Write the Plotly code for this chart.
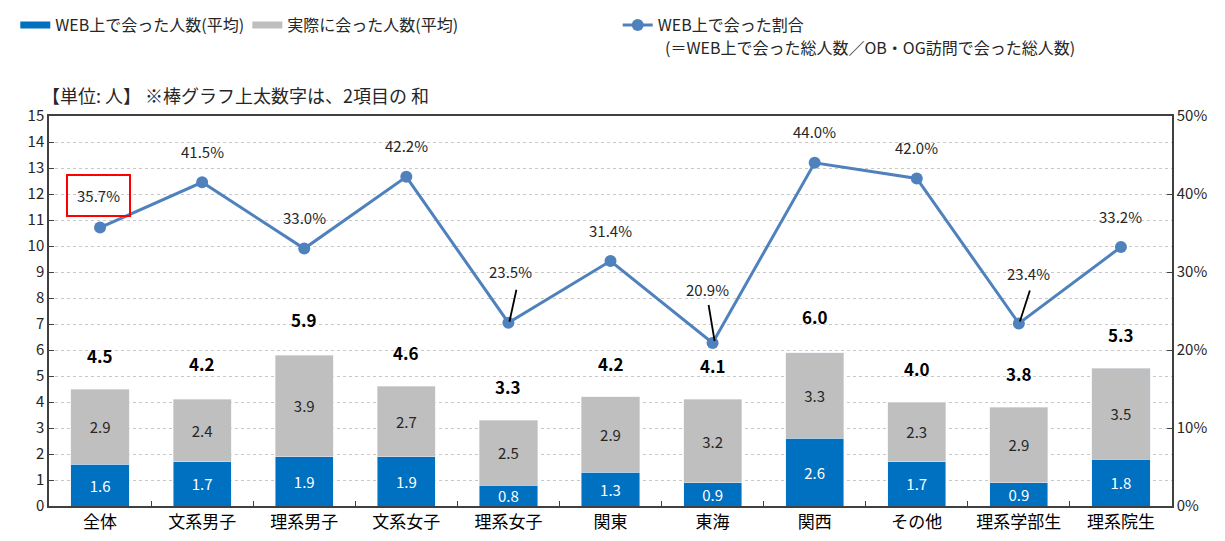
import plotly.graph_objects as go

categories = ["全体", "文系男子", "理系男子", "文系女子", "理系女子", "関東", "東海", "関西", "その他", "理系学部生", "理系院生"]
web_counts = [1.6, 1.7, 1.9, 1.9, 0.8, 1.3, 0.9, 2.6, 1.7, 0.9, 1.8]
real_counts = [2.9, 2.4, 3.9, 2.7, 2.5, 2.9, 3.2, 3.3, 2.3, 2.9, 3.5]
total_counts = [4.5, 4.2, 5.9, 4.6, 3.3, 4.2, 4.1, 6.0, 4.0, 3.8, 5.3]
web_ratio = [35.7, 41.5, 33.0, 42.2, 23.5, 31.4, 20.9, 44.0, 42.0, 23.4, 33.2]

FONT = "Noto Sans CJK JP"
BLUE = "#0070C0"
GRAY = "#BFBFBF"
LINE = "#4F81BD"

fig = go.Figure()

fig.add_trace(go.Bar(
    x=categories, y=web_counts, marker_color=BLUE, showlegend=False,
    text=[f"{v:.1f}" for v in web_counts], textposition="inside", textangle=0,
    insidetextanchor="middle", constraintext="none",
    textfont=dict(color="white", size=15, family=FONT), hoverinfo="skip"))
fig.add_trace(go.Bar(
    x=categories, y=real_counts, marker_color=GRAY, showlegend=False,
    text=[f"{v:.1f}" for v in real_counts], textposition="inside", textangle=0,
    insidetextanchor="middle", constraintext="none",
    textfont=dict(color="#262626", size=15, family=FONT), hoverinfo="skip"))

# legend proxies
fig.add_trace(go.Scatter(x=[None], y=[None], mode="lines", line=dict(color=BLUE, width=7),
                         name="WEB上で会った人数(平均)", legend="legend"))
fig.add_trace(go.Scatter(x=[None], y=[None], mode="lines", line=dict(color=GRAY, width=7),
                         name="実際に会った人数(平均)", legend="legend"))

fig.add_trace(go.Scatter(
    x=categories, y=web_ratio, yaxis="y2", mode="lines+markers",
    line=dict(color=LINE, width=3), marker=dict(color=LINE, size=12),
    name="WEB上で会った割合", legend="legend2"))

annotations = []
shapes = []
for c, t in zip(categories, total_counts):
    annotations.append(dict(x=c, y=t, xref="x", yref="y", text=f"<b>{t:.1f}</b>",
                            showarrow=False, yanchor="bottom", yshift=19,
                            font=dict(size=17, color="#000000", family=FONT)))

# label offsets (label shift, leader line from/to) in pixels relative to the point
leaders = {
    "理系女子": dict(label=(2, 51), line=(8, 33, 1, 1)),
    "東海": dict(label=(-5, 53), line=(-4, 38, 2, 2)),
    "理系学部生": dict(label=(10, 50), line=(11, 33, 1, 2)),
}
PFONT = dict(size=15, color="#262626", family=FONT)
for c, r in zip(categories, web_ratio):
    txt = f"{r:.1f}%"
    if c in leaders:
        lx, ly = leaders[c]["label"]
        x0, y0, x1, y1 = leaders[c]["line"]
        annotations.append(dict(x=c, y=r, xref="x", yref="y2", text=txt, showarrow=False,
                                xshift=lx, yshift=ly, font=PFONT))
        shapes.append(dict(type="line", xref="x", yref="y2", xsizemode="pixel",
                           ysizemode="pixel", xanchor=c, yanchor=r,
                           x0=x0, x1=x1, y0=y0, y1=y1,
                           line=dict(color="#000000", width=1.8)))
    elif c == "全体":
        annotations.append(dict(x=c, y=r, xref="x", yref="y2", text=txt, showarrow=False,
                                yshift=32, xshift=-2, bordercolor="#FF0000", borderwidth=2,
                                borderpad=9, font=PFONT))
    else:
        annotations.append(dict(x=c, y=r, xref="x", yref="y2", text=txt, showarrow=False,
                                yshift=31, font=PFONT))

annotations.append(dict(x=-0.008, y=1.054, xref="paper", yref="paper", xanchor="left",
                        yanchor="middle", showarrow=False,
                        text="【単位: 人】 ※棒グラフ上太数字は、2項目の 和",
                        font=dict(size=18, color="#262626", family=FONT)))
# second line of the ratio legend entry
annotations.append(dict(x=0.5465, y=1.177, xref="paper", yref="paper", xanchor="left",
                        yanchor="middle", showarrow=False,
                        text="(＝WEB上で会った総人数／OB・OG訪問で会った総人数)",
                        font=dict(size=16, color="#262626", family=FONT)))

fig.update_layout(
    width=1217, height=533,
    margin=dict(l=41, r=53, t=108, b=35, autoexpand=False),
    paper_bgcolor="white", plot_bgcolor="white",
    barmode="stack", bargap=0.43,
    font=dict(family=FONT, color="#262626", size=14),
    annotations=annotations, shapes=shapes,
    legend=dict(orientation="h", x=0.006, y=1.0, xref="container", yref="container",
                xanchor="left", yanchor="top", traceorder="normal",
                font=dict(size=16, family=FONT, color="#262626"),
                entrywidth=187, entrywidthmode="pixels", bgcolor="rgba(0,0,0,0)"),
    legend2=dict(orientation="h", x=0.501, y=1.0, xref="container", yref="container",
                 xanchor="left", yanchor="top",
                 valign="top", font=dict(size=16, family=FONT, color="#262626"),
                 bgcolor="rgba(0,0,0,0)"),
    xaxis=dict(type="category", range=[-0.5, len(categories) - 0.5],
               showline=True, linecolor="#404040", linewidth=1.5,
               mirror=True, ticks="inside", tickson="boundaries", ticklen=5,
               tickcolor="#404040", tickfont=dict(size=17, color="#000000", family=FONT),
               showgrid=False, automargin=False),
    yaxis=dict(range=[0, 15], dtick=1, showline=True, linecolor="#404040", linewidth=1.5,
               ticks="inside", ticklen=5, tickcolor="#404040", automargin=False,
               showgrid=True, gridcolor="#C8C8C8", griddash="dot", gridwidth=1,
               tickfont=dict(size=15, color="#262626", family=FONT), zeroline=False),
    yaxis2=dict(range=[0, 50], dtick=10, overlaying="y", side="right", showline=True,
                linecolor="#404040", linewidth=1.5, ticks="inside", ticklen=5,
                tickcolor="#404040", ticksuffix="%", showgrid=False, zeroline=False,
                automargin=False,
                tickfont=dict(size=15, color="#262626", family=FONT)),
)

fig.write_html("out.html")
